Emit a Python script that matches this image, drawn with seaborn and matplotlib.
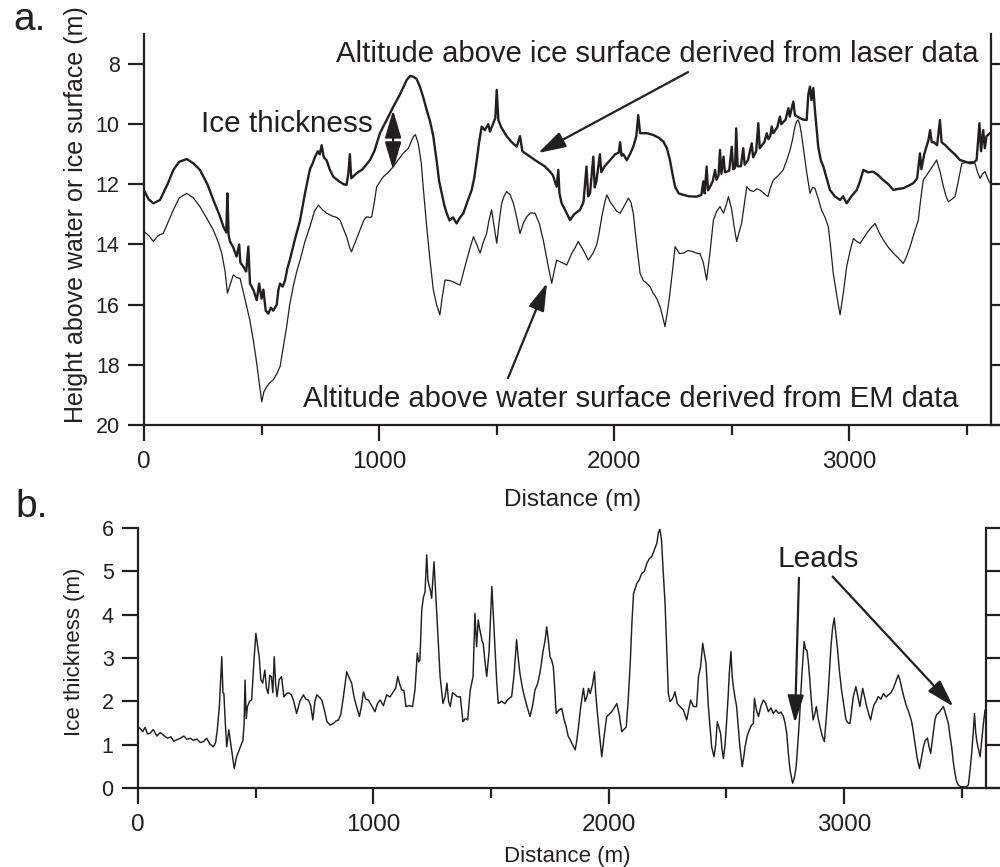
import matplotlib
matplotlib.use("Agg")
import matplotlib.pyplot as plt
import seaborn as sns
import pandas as pd

# ---------------------------------------------------------------- data
# Panel a: altitude above the ice surface from the laser altimeter (m)
laser_dist = [0, 20, 40, 68, 100, 125, 150, 182, 210, 238, 270, 295, 320, 338, 350, 355, 360, 366, 380, 394,
              405, 410, 423, 435, 444, 451, 465, 480, 490, 500, 508, 518, 529, 540, 550, 565, 572, 579, 590, 600,
              610, 621, 640, 664, 685, 706, 718, 728, 740, 748, 756, 765, 777, 790, 806, 830, 850, 862, 870, 876,
              882, 905, 930, 962, 980, 1004, 1030, 1061, 1090, 1118, 1132, 1146, 1160, 1174, 1188, 1203, 1217,
              1231, 1245, 1256, 1267, 1278, 1288, 1300, 1315, 1330, 1345, 1359, 1375, 1394, 1405, 1416, 1426,
              1437, 1450, 1465, 1472, 1485, 1495, 1501, 1508, 1520, 1543, 1565, 1586, 1600, 1610, 1643, 1665,
              1685, 1705, 1728, 1740, 1756, 1763, 1768, 1777, 1795, 1813, 1830, 1855, 1870, 1883, 1890, 1898,
              1912, 1918, 1925, 1940, 1946, 1960, 1983, 2005, 2020, 2026, 2032, 2040, 2054, 2068, 2082, 2095,
              2103, 2111, 2140, 2167, 2190, 2210, 2225, 2238, 2250, 2260, 2275, 2295, 2320, 2352, 2372, 2380,
              2386, 2394, 2400, 2409, 2420, 2430, 2436, 2445, 2451, 2457, 2466, 2472, 2490, 2501, 2507, 2515,
              2520, 2526, 2540, 2550, 2556, 2570, 2586, 2592, 2605, 2614, 2620, 2640, 2650, 2657, 2665, 2671,
              2678, 2695, 2706, 2712, 2730, 2742, 2748, 2763, 2770, 2791, 2806, 2820, 2827, 2834, 2840, 2848,
              2855, 2869, 2880, 2891, 2905, 2919, 2940, 2962, 2975, 2990, 3010, 3033, 3047, 3061, 3080, 3103,
              3125, 3146, 3168, 3189, 3210, 3231, 3252, 3274, 3290, 3302, 3308, 3320, 3338, 3345, 3352, 3360,
              3375, 3387, 3394, 3410, 3430, 3450, 3472, 3495, 3515, 3530, 3543, 3549, 3555, 3562, 3571, 3578,
              3585, 3600]
laser_alt = [12.2, 12.5, 12.63, 12.52, 12.0, 11.52, 11.25, 11.16, 11.3, 11.52, 12.0, 12.52, 13.0, 13.41, 13.6,
             12.3, 13.7, 13.9, 14.1, 14.4, 14.0, 14.6, 14.74, 14.9, 14.07, 15.3, 15.5, 15.85, 15.3, 15.8, 15.5,
             16.2, 16.3, 16.1, 16.2, 16.0, 15.5, 15.3, 15.4, 15.2, 14.8, 14.5, 13.9, 13.2, 12.3, 11.5, 11.3,
             11.08, 10.9, 11.0, 10.7, 11.1, 11.2, 11.5, 11.75, 11.9, 12.0, 12.02, 11.6, 11.0, 11.8, 11.63, 11.5,
             11.19, 10.9, 10.3, 9.9, 9.42, 9.0, 8.53, 8.4, 8.42, 8.5, 8.75, 9.1, 9.53, 9.9, 10.4, 11.2, 11.9,
             12.3, 12.7, 12.96, 13.2, 13.1, 13.3, 13.1, 12.96, 12.6, 12.2, 11.8, 11.2, 10.6, 10.08, 10.2, 10.0,
             10.25, 10.0, 9.8, 8.86, 9.86, 10.1, 10.4, 10.6, 10.75, 10.4, 10.9, 11.08, 11.2, 11.3, 11.4, 11.58,
             11.7, 12.08, 11.52, 12.3, 12.63, 12.9, 13.19, 13.0, 12.85, 12.6, 11.41, 12.4, 12.3, 11.08, 12.1,
             11.9, 11.0, 11.6, 11.4, 11.2, 11.0, 10.95, 10.6, 11.05, 11.0, 11.2, 11.0, 10.75, 10.4, 9.7, 10.3,
             10.3, 10.36, 10.45, 10.58, 10.8, 11.19, 11.7, 12.08, 12.3, 12.35, 12.4, 12.41, 12.35, 11.9, 12.3,
             11.41, 12.2, 12.08, 11.9, 11.52, 11.85, 11.7, 10.86, 11.65, 11.08, 11.6, 11.55, 10.75, 11.5, 11.45,
             10.14, 11.4, 11.4, 10.8, 11.35, 11.2, 10.64, 11.1, 10.9, 9.97, 10.8, 10.6, 10.3, 10.5, 10.4, 10.08,
             10.3, 10.1, 9.75, 10.0, 9.85, 9.47, 9.75, 9.25, 9.7, 9.8, 9.85, 9.86, 9.0, 8.75, 9.2, 8.8, 9.53,
             10.75, 11.2, 11.41, 11.8, 12.19, 12.4, 12.52, 12.4, 12.63, 12.4, 12.19, 11.9, 11.52, 11.6, 11.58,
             11.7, 11.86, 12.0, 12.19, 12.15, 12.13, 12.05, 11.96, 11.8, 10.97, 11.5, 11.0, 10.53, 10.2, 10.6,
             10.6, 10.7, 9.86, 10.6, 10.7, 10.86, 11.0, 11.19, 11.25, 11.3, 11.28, 11.19, 10.6, 9.97, 10.9,
             10.2, 10.8, 10.4, 10.3]

# Panel a: altitude above the water surface from the EM sounder (m)
em_dist = [0, 20, 40, 60, 82, 100, 125, 150, 182, 210, 238, 265, 295, 315, 331, 345, 355, 368, 380, 395, 409,
           420, 437, 450, 465, 477, 487, 495, 501, 510, 522, 535, 550, 565, 579, 593, 607, 620, 635, 650, 664,
           685, 706, 725, 742, 760, 777, 800, 820, 834, 850, 862, 875, 883, 900, 919, 935, 947, 960, 969, 980,
           990, 1005, 1018, 1040, 1061, 1080, 1103, 1125, 1146, 1155, 1167, 1180, 1188, 1203, 1217, 1231, 1245,
           1259, 1270, 1281, 1300, 1316, 1330, 1345, 1360, 1373, 1388, 1402, 1416, 1430, 1445, 1458, 1468, 1479,
           1490, 1501, 1512, 1522, 1532, 1543, 1558, 1572, 1586, 1600, 1614, 1628, 1645, 1664, 1682, 1699, 1717,
           1735, 1745, 1756, 1778, 1799, 1820, 1835, 1848, 1870, 1891, 1910, 1926, 1937, 1948, 1958, 1969, 1985,
           1998, 2012, 2026, 2045, 2061, 2072, 2082, 2095, 2111, 2125, 2139, 2153, 2167, 2182, 2196, 2207, 2217,
           2228, 2238, 2250, 2260, 2278, 2295, 2315, 2337, 2355, 2366, 2380, 2394, 2408, 2423, 2437, 2451, 2466,
           2477, 2487, 2500, 2511, 2522, 2532, 2543, 2554, 2565, 2579, 2593, 2607, 2621, 2638, 2655, 2666, 2678,
           2700, 2720, 2735, 2749, 2760, 2770, 2778, 2784, 2790, 2797, 2805, 2820, 2834, 2845, 2855, 2870, 2883,
           2898, 2912, 2922, 2933, 2948, 2962, 2976, 2990, 3005, 3019, 3033, 3047, 3061, 3075, 3093, 3111, 3128,
           3146, 3168, 3189, 3210, 3231, 3245, 3260, 3278, 3295, 3305, 3316, 3330, 3345, 3360, 3373, 3388, 3402,
           3413, 3423, 3437, 3451, 3465, 3480, 3497, 3515, 3526, 3536, 3547, 3558, 3568, 3579, 3590, 3600]
em_alt = [13.57, 13.7, 13.9, 13.7, 13.63, 13.3, 12.85, 12.45, 12.3, 12.45, 12.74, 13.1, 13.52, 13.9, 14.29,
          14.9, 15.62, 15.3, 15.01, 15.1, 15.13, 15.5, 16.07, 16.5, 17.18, 17.8, 18.4, 18.9, 19.23, 18.9, 18.73,
          18.6, 18.5, 18.3, 18.06, 17.4, 16.73, 16.0, 15.4, 14.9, 14.52, 13.9, 13.41, 12.9, 12.69, 12.85, 12.96,
          13.05, 13.1, 13.19, 13.5, 13.74, 14.1, 14.24, 13.9, 13.52, 13.2, 13.08, 13.1, 13.08, 12.6, 12.08, 11.9,
          11.75, 11.6, 11.41, 11.2, 10.97, 10.8, 10.42, 10.35, 10.64, 11.3, 12.08, 13.41, 14.52, 15.5, 16.0,
          16.34, 15.7, 15.18, 15.2, 15.24, 15.3, 15.35, 14.9, 14.52, 14.1, 13.74, 14.0, 14.29, 13.9, 13.63, 13.2,
          12.85, 13.4, 13.96, 13.2, 12.63, 12.4, 12.24, 12.35, 12.63, 13.1, 13.63, 13.3, 13.08, 12.95, 12.96,
          13.3, 13.85, 14.6, 15.29, 14.9, 14.52, 14.6, 14.68, 14.3, 14.1, 13.9, 14.2, 14.52, 14.3, 14.02, 13.6,
          13.08, 12.7, 12.35, 12.6, 12.74, 12.9, 12.96, 12.7, 12.46, 12.6, 12.96, 13.9, 14.96, 15.2, 15.29, 15.4,
          15.62, 15.8, 16.07, 16.4, 16.73, 16.2, 15.62, 14.8, 14.07, 14.3, 14.29, 14.2, 14.24, 14.3, 14.3, 14.6,
          15.18, 14.3, 13.19, 12.9, 12.74, 12.96, 12.7, 12.41, 12.8, 13.4, 13.9, 13.6, 13.3, 12.7, 12.08, 12.2,
          12.24, 12.15, 12.19, 12.3, 12.41, 12.1, 11.86, 11.7, 11.52, 11.2, 10.86, 10.5, 10.08, 9.9, 9.86, 10.0,
          10.3, 10.75, 11.6, 12.3, 12.1, 12.13, 12.5, 12.85, 13.1, 13.41, 14.1, 14.96, 15.7, 16.34, 15.6, 14.74,
          14.2, 13.8, 13.9, 13.96, 13.8, 13.63, 13.45, 13.3, 13.6, 13.85, 14.1, 14.29, 14.45, 14.63, 14.4,
          14.07, 13.6, 13.19, 12.5, 11.86, 11.7, 11.52, 11.35, 11.19, 11.6, 12.08, 12.4, 12.58, 12.5, 12.41,
          11.9, 11.3, 11.28, 11.25, 11.25, 11.3, 11.6, 11.8, 11.65, 11.58, 11.8, 11.96]

# Panel b: ice thickness (m)
thick_dist = [0, 8, 20, 30, 40, 51, 65, 80, 95, 108, 125, 140, 152, 164, 180, 195, 208, 221, 235, 250, 265, 278,
              292, 305, 320, 330, 337, 346, 356, 361, 365, 371, 377, 386, 398, 409, 419, 428, 438, 446, 451, 455,
              460, 465, 474, 483, 493, 501, 508, 515, 522, 530, 539, 546, 553, 560, 567, 573, 579, 585, 591, 600,
              610, 620, 631, 640, 652, 662, 674, 688, 703, 714, 724, 734, 743, 752, 760, 770, 781, 792, 803, 817,
              831, 842, 852, 862, 871, 880, 887, 897, 908, 918, 929, 941, 950, 958, 968, 979, 993, 1007, 1018, 1029,
              1043, 1057, 1071, 1085, 1095, 1104, 1112, 1121, 1130, 1139, 1153, 1167, 1177, 1187, 1193, 1198, 1206,
              1213, 1220, 1227, 1232, 1238, 1243, 1248, 1258, 1264, 1270, 1284, 1296, 1305, 1313, 1320, 1327, 1337,
              1348, 1359, 1370, 1376, 1381, 1391, 1401, 1412, 1424, 1432, 1439, 1446, 1451, 1456, 1462, 1467, 1475,
              1482, 1492, 1504, 1510, 1517, 1524, 1531, 1545, 1559, 1573, 1588, 1598, 1609, 1616, 1623, 1634, 1644,
              1655, 1666, 1677, 1687, 1698, 1708, 1715, 1722, 1730, 1737, 1744, 1751, 1758, 1765, 1771, 1777, 1789,
              1801, 1810, 1820, 1828, 1837, 1847, 1858, 1865, 1872, 1882, 1893, 1900, 1908, 1915, 1922, 1932, 1940,
              1945, 1950, 1960, 1971, 1981, 1992, 2003, 2013, 2024, 2035, 2045, 2056, 2065, 2075, 2083, 2092, 2099,
              2106, 2113, 2120, 2130, 2141, 2152, 2163, 2174, 2184, 2195, 2205, 2212, 2218, 2225, 2232, 2240, 2247,
              2254, 2261, 2268, 2275, 2282, 2292, 2303, 2318, 2332, 2340, 2349, 2360, 2374, 2382, 2391, 2400, 2407,
              2414, 2424, 2438, 2448, 2455, 2462, 2469, 2476, 2482, 2488, 2495, 2502, 2508, 2513, 2520, 2525, 2530,
              2537, 2544, 2551, 2558, 2568, 2574, 2580, 2589, 2598, 2607, 2615, 2620, 2628, 2637, 2648, 2658, 2668,
              2679, 2690, 2700, 2711, 2722, 2733, 2743, 2750, 2757, 2764, 2771, 2782, 2790, 2797, 2804, 2811, 2821,
              2831, 2837, 2843, 2849, 2854, 2862, 2869, 2876, 2883, 2891, 2900, 2908, 2917, 2925, 2933, 2945, 2952,
              2959, 2965, 2972, 2981, 2990, 3000, 3009, 3018, 3026, 3033, 3040, 3051, 3060, 3068, 3074, 3080, 3088,
              3097, 3106, 3114, 3120, 3128, 3137, 3146, 3157, 3168, 3179, 3189, 3200, 3210, 3220, 3231, 3238, 3246,
              3255, 3264, 3276, 3288, 3295, 3302, 3311, 3321, 3330, 3338, 3346, 3355, 3362, 3369, 3378, 3387, 3394,
              3401, 3412, 3423, 3433, 3444, 3451, 3458, 3465, 3472, 3479, 3486, 3497, 3507, 3518, 3529, 3536, 3543,
              3550, 3555, 3560, 3565, 3572, 3579, 3586, 3593, 3600]
thickness = [1.4, 1.38, 1.3, 1.4, 1.25, 1.26, 1.35, 1.2, 1.28, 1.22, 1.15, 1.18, 1.08, 1.11, 1.15, 1.2, 1.12, 1.15,
             1.1, 1.13, 1.05, 1.07, 1.15, 1.02, 0.95, 1.05, 1.34, 1.9, 3.03, 2.2, 2.18, 1.5, 0.95, 1.34, 0.88, 0.45,
             0.72, 0.85, 0.99, 1.1, 1.49, 2.49, 1.6, 1.88, 2.0, 2.03, 2.95, 3.57, 3.3, 3.03, 2.5, 2.42, 2.72, 2.3,
             2.18, 2.6, 2.57, 2.2, 3.03, 2.4, 2.11, 2.5, 2.57, 2.1, 2.18, 2.2, 2.15, 2.0, 1.72, 2.0, 2.15, 2.05,
             2.03, 1.9, 1.57, 2.0, 2.15, 2.1, 2.03, 1.8, 1.53, 1.45, 1.49, 1.55, 1.57, 1.7, 2.03, 2.4, 2.68, 2.55,
             2.42, 2.1, 1.88, 1.65, 1.9, 2.22, 2.05, 2.03, 1.9, 1.76, 1.95, 2.03, 1.9, 2.15, 2.1, 2.22, 2.3, 2.57,
             2.4, 2.26, 2.25, 1.88, 1.9, 1.88, 2.26, 3.11, 2.91, 2.95, 4.11, 4.4, 4.53, 5.38, 4.8, 4.65, 4.55, 4.38,
             5.22, 4.6, 3.95, 2.57, 1.95, 2.1, 2.42, 2.0, 1.88, 2.2, 2.15, 2.1, 2.11, 1.8, 1.53, 1.6, 1.57, 2.26,
             2.57, 4.03, 3.26, 3.88, 3.7, 3.57, 3.4, 3.34, 2.9, 2.57, 3.15, 4.65, 4.0, 3.26, 2.5, 1.95, 2.0, 1.95,
             2.05, 2.11, 2.6, 3.42, 3.0, 2.65, 2.3, 2.07, 1.85, 1.65, 1.9, 2.26, 2.4, 2.65, 2.9, 3.18, 3.4, 3.72,
             3.4, 3.03, 2.95, 2.8, 2.3, 1.72, 1.8, 1.84, 1.6, 1.41, 1.2, 1.11, 1.0, 0.88, 1.1, 1.41, 1.9, 2.3, 2.0,
             2.11, 2.3, 2.18, 2.4, 2.68, 2.2, 1.88, 1.3, 0.72, 1.2, 1.65, 1.7, 1.76, 1.85, 1.95, 1.7, 1.3, 1.35,
             1.41, 2.0, 2.88, 3.8, 4.49, 4.6, 4.72, 4.8, 4.95, 5.0, 5.19, 5.3, 5.34, 5.5, 5.65, 5.9, 5.97, 5.72,
             5.0, 4.26, 3.2, 2.18, 2.0, 2.03, 2.1, 2.22, 1.95, 1.88, 1.8, 1.57, 1.8, 2.03, 1.88, 1.88, 2.57, 2.8,
             3.34, 3.1, 2.88, 1.88, 0.95, 0.72, 1.0, 1.53, 1.4, 1.26, 0.9, 0.68, 1.0, 1.57, 2.1, 2.65, 3.15, 2.6,
             2.34, 2.1, 1.88, 1.4, 0.95, 0.49, 0.7, 0.95, 1.2, 1.34, 1.45, 1.49, 2.07, 1.8, 1.65, 1.9, 2.03, 1.95,
             1.76, 1.85, 1.72, 1.8, 1.72, 1.75, 1.65, 1.5, 1.26, 0.8, 0.42, 0.11, 0.25, 0.49, 1.0, 1.57, 2.57, 3.38,
             3.2, 3.18, 2.9, 2.57, 2.0, 1.57, 1.7, 1.88, 1.6, 1.38, 1.2, 1.07, 1.6, 2.18, 3.26, 3.7, 3.92, 3.6,
             3.26, 2.7, 2.26, 1.9, 1.57, 1.5, 1.49, 1.8, 2.11, 2.34, 2.1, 1.88, 2.1, 2.3, 2.1, 1.88, 1.7, 1.57,
             1.75, 1.92, 2.0, 2.11, 2.05, 2.18, 2.1, 2.15, 2.2, 2.3, 2.45, 2.61, 2.5, 2.3, 2.1, 1.92, 1.75, 1.53,
             1.3, 1.03, 0.7, 0.45, 0.7, 0.95, 1.1, 1.15, 0.95, 0.8, 1.2, 1.57, 1.7, 1.72, 1.8, 1.88, 1.7, 1.49,
             1.2, 0.95, 0.6, 0.34, 0.15, 0.07, 0.03, 0.03, 0.02, 0.07, 0.4, 0.8, 1.3, 1.72, 1.3, 1.07, 0.9, 0.72,
             1.1, 1.49, 1.8]

x_ticks = [0, 1000, 2000, 3000]
x_minor = [500, 1500, 2500, 3500]
alt_ticks = [8, 10, 12, 14, 16, 18, 20]
thick_ticks = [0, 1, 2, 3, 4, 5, 6]

# ---------------------------------------------------------------- style
INK = "#231f20"
sns.set_style("ticks")
plt.rcParams["font.family"] = ["Liberation Sans", "DejaVu Sans"]
plt.rcParams.update({
    "text.color": INK, "axes.labelcolor": INK, "axes.edgecolor": INK,
    "xtick.color": INK, "ytick.color": INK, "axes.linewidth": 1.6,
})

laser_df = pd.DataFrame({"dist": laser_dist, "alt": laser_alt})
em_df = pd.DataFrame({"dist": em_dist, "alt": em_alt})
thick_df = pd.DataFrame({"dist": thick_dist, "thick": thickness})

fig = plt.figure(figsize=(10, 8.67), dpi=100)
ax_a = fig.add_axes([0.144, 0.5098, 0.8695, 0.4511])
ax_b = fig.add_axes([0.138, 0.0911, 0.8706, 0.2999])

XMAX = 3700
EDGE = 3604  # position of the right-hand frame line

sns.lineplot(data=laser_df, x="dist", y="alt", ax=ax_a, color=INK, lw=1.7,
             estimator=None, sort=False)
sns.lineplot(data=em_df, x="dist", y="alt", ax=ax_a, color=INK, lw=0.9,
             estimator=None, sort=False)
sns.lineplot(data=thick_df, x="dist", y="thick", ax=ax_b, color=INK, lw=1.05,
             estimator=None, sort=False)


def frame(ax, yticks, ylim):
    ax.set_xlim(0, XMAX)
    ax.set_ylim(*ylim)
    ax.set_xticks(x_ticks)
    ax.set_xticks(x_minor, minor=True)
    ax.set_yticks(yticks)
    ax.spines["top"].set_visible(False)
    ax.spines["right"].set_position(("data", EDGE))
    ax.tick_params(axis="both", which="major", direction="out", length=11.5,
                   width=1.6, color=INK)
    ax.tick_params(axis="x", which="minor", direction="out", length=7,
                   width=1.6, color=INK)
    ax.tick_params(axis="y", right=True, labelright=False)
    ax.tick_params(axis="y", labelsize=15.5, pad=6)
    ax.tick_params(axis="x", labelsize=17.5, pad=7)


frame(ax_a, alt_ticks, (20, 7))
frame(ax_b, thick_ticks, (0, 6))

ax_a.set_xlabel("Distance (m)", fontsize=17.5)
ax_a.xaxis.set_label_coords(0.4934, -0.164)
ax_a.set_ylabel("Height above water or ice surface (m)", fontsize=18)
ax_a.yaxis.set_label_coords(-0.0644, 0.537)

ax_b.set_xlabel("Distance (m)", fontsize=16)
ax_b.xaxis.set_label_coords(0.4928, -0.223)
ax_b.set_ylabel("Ice thickness (m)", fontsize=16)
ax_b.yaxis.set_label_coords(-0.0609, 0.523)

fig.text(0.013, 0.9654, "a.", fontsize=28, ha="left", va="baseline")
fig.text(0.015, 0.4037, "b.", fontsize=28, ha="left", va="baseline")

head = "-|>,head_length=0.85,head_width=0.25"
arrow_kw = dict(arrowstyle=head, mutation_scale=20, lw=1.6, color=INK,
                shrinkA=0, shrinkB=0)

ax_a.text(3549, 7.93, "Altitude above ice surface derived from laser data",
          fontsize=21.1, ha="right", va="baseline")
ax_a.annotate("", xy=(1677, 10.96), xytext=(2315, 8.27), arrowprops=arrow_kw)

ax_a.text(677, 19.40, "Altitude above water surface derived from EM data",
          fontsize=21.0, ha="left", va="baseline")
ax_a.annotate("", xy=(1715, 15.28), xytext=(1549, 18.44), arrowprops=arrow_kw)

ax_a.text(974, 10.26, "Ice thickness", fontsize=21.4, ha="right", va="baseline")
ax_a.annotate("", xy=(1060, 9.53), xytext=(1060, 11.52),
              arrowprops=dict(arrowstyle="<|-|>,head_length=0.85,head_width=0.25",
                              mutation_scale=20, lw=1.6, color=INK,
                              shrinkA=0, shrinkB=0))

ax_b.text(2716, 5.10, "Leads", fontsize=21.5, ha="left", va="baseline")
ax_b.annotate("", xy=(2792, 1.50), xytext=(2809, 4.85), arrowprops=arrow_kw)
ax_b.annotate("", xy=(3465, 1.88), xytext=(2952, 4.88), arrowprops=arrow_kw)

fig.savefig("out.png", dpi=100)
